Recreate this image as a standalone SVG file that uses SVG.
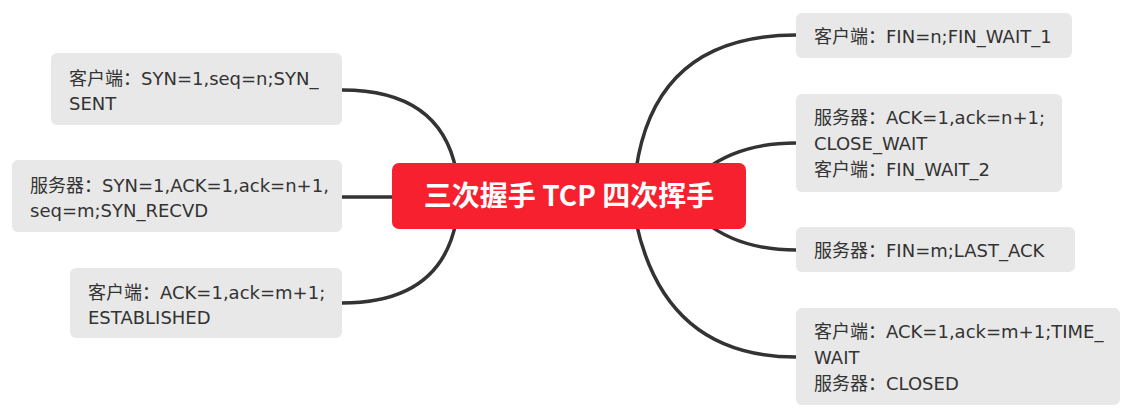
<svg xmlns="http://www.w3.org/2000/svg" width="1140" height="418" viewBox="0 0 1140 418">
<style>
.box{fill:#e8e8e8}
.t{font-family:"DejaVu Sans","Noto Sans CJK SC",sans-serif;font-size:18px;fill:#333}
.c{fill:none;stroke:#333;stroke-width:3.5;stroke-linecap:round}
.root{fill:#f7202e}
.rt{font-family:"Noto Sans CJK SC","Noto Sans",sans-serif;font-size:28px;font-weight:bold;fill:#fff}
</style>
<rect width="1140" height="418" fill="#fff"/>
<g id="connectors">
<path class="c" d="M342 90 Q440 90 456 170"/>
<path class="c" d="M342 197 L400 197"/>
<path class="c" d="M342 303 Q440 303 456 222"/>
<path class="c" d="M636 170 Q655 35 796 35"/>
<path class="c" d="M705 170 Q740 143 796 143"/>
<path class="c" d="M705 222 Q740 250 796 250"/>
<path class="c" d="M636 222 Q665 357 796 357"/>
</g>
<g id="root">
<rect class="root" x="392" y="163" width="354" height="66" rx="7"/>
<text class="rt" x="569" y="206" text-anchor="middle">三次握手 TCP 四次挥手</text>
</g>
<g id="n1">
<rect class="box" x="51" y="53" width="291" height="72" rx="6"/>
<text class="t" x="69" y="85">客户端：SYN=1,seq=n;SYN_</text>
<text class="t" x="69" y="110">SENT</text>
</g>
<g id="n2">
<rect class="box" x="12" y="160" width="330" height="72" rx="6"/>
<text class="t" x="30" y="192">服务器：SYN=1,ACK=1,ack=n+1,</text>
<text class="t" x="30" y="217">seq=m;SYN_RECVD</text>
</g>
<g id="n3">
<rect class="box" x="70" y="268" width="272" height="70" rx="6"/>
<text class="t" x="88" y="299">客户端：ACK=1,ack=m+1;</text>
<text class="t" x="88" y="324">ESTABLISHED</text>
</g>
<g id="n4">
<rect class="box" x="796" y="13" width="276" height="45" rx="6"/>
<text class="t" x="814" y="43">客户端：FIN=n;FIN_WAIT_1</text>
</g>
<g id="n5">
<rect class="box" x="796" y="94" width="266" height="98" rx="6"/>
<text class="t" x="814" y="124">服务器：ACK=1,ack=n+1;</text>
<text class="t" x="814" y="150">CLOSE_WAIT</text>
<text class="t" x="814" y="176">客户端：FIN_WAIT_2</text>
</g>
<g id="n6">
<rect class="box" x="796" y="227" width="279" height="45" rx="6"/>
<text class="t" x="814" y="257">服务器：FIN=m;LAST_ACK</text>
</g>
<g id="n7">
<rect class="box" x="796" y="308" width="324" height="97" rx="6"/>
<text class="t" x="814" y="338">客户端：ACK=1,ack=m+1;TIME_</text>
<text class="t" x="814" y="364">WAIT</text>
<text class="t" x="814" y="390">服务器：CLOSED</text>
</g>
</svg>
